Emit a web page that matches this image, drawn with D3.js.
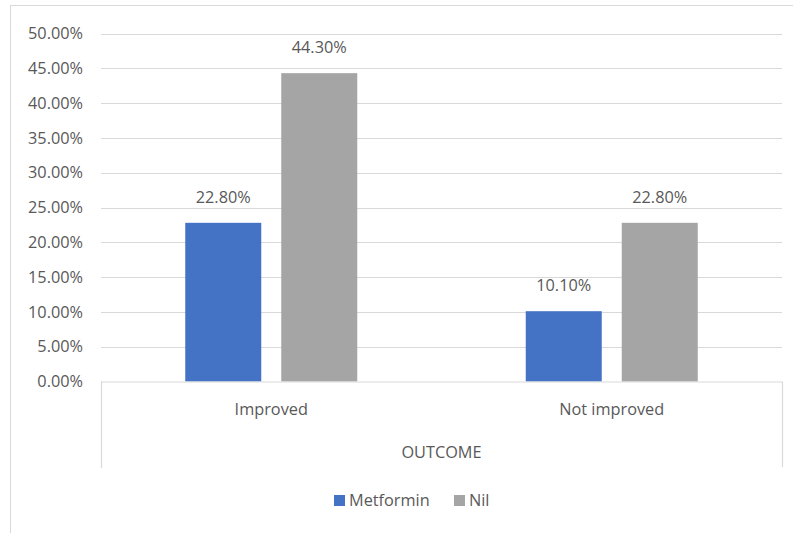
<!DOCTYPE html>
<html>
<head>
<meta charset="utf-8">
<script src="https://cdn.jsdelivr.net/npm/d3@7"></script>
<style>
  html, body { margin: 0; padding: 0; background: #fff; }
  svg text { font-family: "Open Sans", "Noto Sans", sans-serif; fill: #595959; }
</style>
</head>
<body>
<svg id="chart" width="793" height="533"></svg>
<script>
// Outcome by treatment group
const categories = ["Improved", "Not improved"];
const seriesNames = ["Metformin", "Nil"];
const metformin = [22.8, 10.1];
const nil = [44.3, 22.8];
const yTicks = [0, 5, 10, 15, 20, 25, 30, 35, 40, 45, 50];
const groupTitle = "OUTCOME";

const colors = { Metformin: "#4472c4", Nil: "#a5a5a5" };
const values = { Metformin: metformin, Nil: nil };
const FS = 16.3;

const svg = d3.select("#chart");
const W = 793, H = 533;
const plot = { left: 101, right: 782, top: 33.5, bottom: 381.5 };

// chart frame
svg.append("rect")
  .attr("x", 10.5).attr("y", 5.5)
  .attr("width", W + 20).attr("height", H + 20)
  .attr("fill", "none").attr("stroke", "#d9d9d9").attr("stroke-width", 1);

const y = d3.scaleLinear().domain([0, 50]).range([plot.bottom, plot.top]);
const x0 = d3.scaleBand().domain(categories).range([plot.left, plot.right]).paddingInner(0).paddingOuter(0);
const x1 = d3.scaleBand().domain(seriesNames).range([0, x0.bandwidth()])
  .paddingInner(20 / 96).paddingOuter(0.8776);

// gridlines
svg.append("g").selectAll("line").data(yTicks.filter(t => t > 0)).join("line")
  .attr("x1", plot.left).attr("x2", plot.right)
  .attr("y1", d => Math.round(y(d)) + 0.5).attr("y2", d => Math.round(y(d)) + 0.5)
  .attr("stroke", "#d9d9d9").attr("stroke-width", 1.2);

// y axis labels
const yAxis = d3.axisLeft(y).tickValues(yTicks).tickSize(0).tickPadding(0)
  .tickFormat(d => d.toFixed(2) + "%");
const gy = svg.append("g").attr("transform", `translate(83,0)`).call(yAxis);
gy.select(".domain").remove();
gy.selectAll("text").attr("font-size", FS).attr("fill", "#595959")
  .style("font-family", '"Open Sans", sans-serif');

// bars
const groups = svg.append("g").selectAll("g").data(categories).join("g")
  .attr("transform", d => `translate(${x0(d)},0)`);

groups.selectAll("rect")
  .data((c, i) => seriesNames.map(s => ({ s, v: values[s][i] })))
  .join("rect")
  .attr("x", d => x1(d.s))
  .attr("y", d => y(d.v))
  .attr("width", x1.bandwidth())
  .attr("height", d => y(0) - y(d.v))
  .attr("fill", d => colors[d.s]);

groups.selectAll("text.val")
  .data((c, i) => seriesNames.map(s => ({ s, v: values[s][i] })))
  .join("text")
  .attr("class", "val")
  .attr("x", d => x1(d.s) + x1.bandwidth() / 2)
  .attr("y", d => y(d.v) - 20)
  .attr("text-anchor", "middle")
  .attr("font-size", FS)
  .text(d => d.v.toFixed(2) + "%");

// category axis (two levels)
const axisG = svg.append("g").attr("stroke", "#d9d9d9").attr("stroke-width", 1.2);
axisG.append("line").attr("x1", plot.left).attr("x2", plot.right)
  .attr("y1", plot.bottom + 0.5).attr("y2", plot.bottom + 0.5);
axisG.append("line").attr("x1", plot.left + 0.5).attr("x2", plot.left + 0.5)
  .attr("y1", plot.bottom).attr("y2", 468);
axisG.append("line").attr("x1", plot.right + 0.5).attr("x2", plot.right + 0.5)
  .attr("y1", plot.bottom).attr("y2", 467);

svg.append("g").selectAll("text").data(categories).join("text")
  .attr("x", d => x0(d) + x0.bandwidth() / 2)
  .attr("y", 415)
  .attr("text-anchor", "middle")
  .attr("font-size", FS)
  .text(d => d);

svg.append("text")
  .attr("x", (plot.left + plot.right) / 2)
  .attr("y", 458)
  .attr("text-anchor", "middle")
  .attr("font-size", FS)
  .text(groupTitle);

// legend
const legend = svg.append("g");
const legendItems = [{ s: "Metformin", x: 334 }, { s: "Nil", x: 454 }];
legendItems.forEach(it => {
  legend.append("rect").attr("x", it.x).attr("y", 495).attr("width", 11).attr("height", 11)
    .attr("fill", colors[it.s]);
  legend.append("text").attr("x", it.x + 15).attr("y", 506)
    .attr("font-size", FS).text(it.s);
});
</script>
</body>
</html>
